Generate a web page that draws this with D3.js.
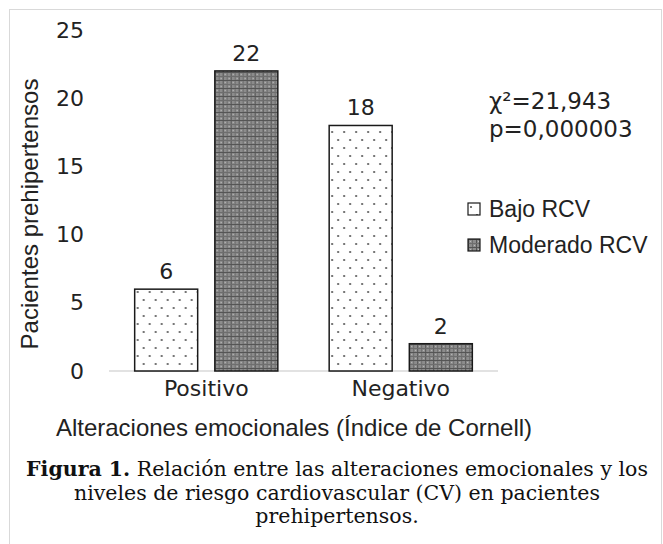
<!DOCTYPE html>
<html>
<head>
<meta charset="utf-8">
<script src="https://cdn.jsdelivr.net/npm/d3@7"></script>
<style>
  body { margin: 0; background: #fff; }
</style>
</head>
<body>
<script>
// data
var categories = ['Positivo', 'Negativo'];
var seriesNames = ['Bajo RCV', 'Moderado RCV'];
var bajoValues = [6, 18];
var moderadoValues = [22, 2];
var yTicks = [0, 5, 10, 15, 20, 25];
var statLines = ['χ²=21,943', 'p=0,000003'];

var rows = categories.map(function ( c, i ) {
  return { cat: c, values: [
    { name: seriesNames[0], value: bajoValues[i] },
    { name: seriesNames[1], value: moderadoValues[i] }
  ] };
});

// ----------------------------------------------------------------------------
var svg = d3.select('body').append('svg')
  .attr('width', 663)
  .attr('height', 544);

// patterns
var defs = svg.append('defs');
var dots = defs.append('pattern')
  .attr('id', 'dots')
  .attr('patternUnits', 'userSpaceOnUse')
  .attr('width', 12).attr('height', 16);
dots.append('rect').attr('width', 12).attr('height', 16).attr('fill', '#fff');
dots.append('circle').attr('cx', 3).attr('cy', 4).attr('r', 1.1).attr('fill', '#555');
dots.append('circle').attr('cx', 9).attr('cy', 12).attr('r', 1.1).attr('fill', '#555');

var plaid = defs.append('pattern')
  .attr('id', 'plaid')
  .attr('patternUnits', 'userSpaceOnUse')
  .attr('width', 8).attr('height', 8);
plaid.append('rect').attr('width', 8).attr('height', 8).attr('fill', '#8c8c8c');
plaid.append('rect').attr('x', 0).attr('width', 1).attr('height', 8).attr('fill', '#555');
plaid.append('rect').attr('x', 4).attr('width', 1).attr('height', 8).attr('fill', '#6e6e6e');
plaid.append('rect').attr('y', 0).attr('width', 8).attr('height', 1).attr('fill', '#555');
plaid.append('rect').attr('y', 4).attr('width', 8).attr('height', 1).attr('fill', '#6e6e6e');
plaid.append('rect').attr('x', 2).attr('y', 2).attr('width', 1).attr('height', 1).attr('fill', '#bdbdbd');
plaid.append('rect').attr('x', 6).attr('y', 6).attr('width', 1).attr('height', 1).attr('fill', '#bdbdbd');

var fills = { 'Bajo RCV': 'url(#dots)', 'Moderado RCV': 'url(#plaid)' };

// outer frame
svg.append('rect')
  .attr('x', 9.5).attr('y', 9.5)
  .attr('width', 652).attr('height', 560)
  .attr('fill', 'none')
  .attr('stroke', '#d9d9d9');

// scales
var y = d3.scaleLinear().domain([0, 25]).range([371, 30]);
var x0 = d3.scaleBand().domain(categories)
  .range([109, 498])
  .paddingInner(0.264)
  .paddingOuter(0.132);
var x1 = d3.scaleBand().domain(seriesNames)
  .range([0, x0.bandwidth()])
  .paddingInner(0.214);

// y tick labels (no axis line)
var yAxis = svg.append('g')
  .attr('transform', 'translate(84,0)')
  .call(d3.axisLeft(y).tickValues(yTicks).tickSize(0).tickPadding(0));
yAxis.select('.domain').remove();
yAxis.selectAll('text')
  .attr('font-family', 'DejaVu Sans')
  .attr('font-size', 22)
  .attr('fill', '#222');

// baseline
svg.append('line')
  .attr('x1', x0.range()[0]).attr('x2', x0.range()[1])
  .attr('y1', y(0)).attr('y2', y(0))
  .attr('stroke', '#d9d9d9')
  .attr('stroke-width', 1.5);

// bars
var groups = svg.selectAll('g.grp')
  .data(rows)
  .enter()
  .append('g')
  .attr('class', 'grp')
  .attr('transform', function ( d ) {
    return 'translate(' + x0(d.cat) + ',0)';
  });

groups.selectAll('rect')
  .data(function ( d ) { return d.values; })
  .enter()
  .append('rect')
  .attr('x', function ( d ) { return x1(d.name); })
  .attr('y', function ( d ) { return y(d.value); })
  .attr('width', x1.bandwidth())
  .attr('height', function ( d ) { return y(0) - y(d.value); })
  .attr('fill', function ( d ) { return fills[d.name]; })
  .attr('stroke', '#1a1a1a')
  .attr('stroke-width', 1.5);

groups.selectAll('text')
  .data(function ( d ) { return d.values; })
  .enter()
  .append('text')
  .attr('x', function ( d ) { return x1(d.name) + x1.bandwidth() / 2; })
  .attr('y', function ( d ) { return y(d.value) - 10; })
  .attr('text-anchor', 'middle')
  .attr('font-family', 'DejaVu Sans')
  .attr('font-size', 22)
  .attr('fill', '#222')
  .text(function ( d ) { return d.value; });

// category labels
var xAxis = svg.append('g')
  .attr('transform', 'translate(0,' + y(0) + ')')
  .call(d3.axisBottom(x0).tickSize(0).tickPadding(9));
xAxis.select('.domain').remove();
xAxis.selectAll('text')
  .attr('font-family', 'DejaVu Sans')
  .attr('font-size', 22)
  .attr('fill', '#222');

// axis titles
svg.append('text')
  .attr('transform', 'translate(38,214) rotate(-90)')
  .attr('text-anchor', 'middle')
  .attr('font-family', 'Liberation Sans')
  .attr('font-size', 24)
  .attr('fill', '#222')
  .text('Pacientes prehipertensos');

svg.append('text')
  .attr('x', 294).attr('y', 436)
  .attr('text-anchor', 'middle')
  .attr('font-family', 'Liberation Sans')
  .attr('font-size', 24)
  .attr('fill', '#222')
  .text('Alteraciones emocionales (Índice de Cornell)');

// stats
svg.selectAll('text.stat')
  .data(statLines)
  .enter()
  .append('text')
  .attr('class', 'stat')
  .attr('x', 489)
  .attr('y', function ( d, i ) { return 109 + i * 28; })
  .attr('font-family', 'DejaVu Sans')
  .attr('font-size', 23)
  .attr('fill', '#222')
  .text(function ( d ) { return d; });

// legend
var legend = svg.selectAll('g.leg')
  .data(seriesNames)
  .enter()
  .append('g')
  .attr('class', 'leg')
  .attr('transform', function ( d, i ) {
    return 'translate(468,' + (203 + i * 36) + ')';
  });
legend.append('rect')
  .attr('width', 12).attr('height', 12)
  .attr('fill', function ( d ) { return fills[d]; })
  .attr('stroke', '#1a1a1a')
  .attr('stroke-width', 1.2);
legend.append('text')
  .attr('x', 21).attr('y', 14)
  .attr('font-family', 'Liberation Sans')
  .attr('font-size', 23)
  .attr('fill', '#222')
  .text(function ( d ) { return d; });

// caption
var capLines = [
  [['Figura 1.', true], [' Relación entre las alteraciones emocionales y los', false]],
  [['niveles de riesgo cardiovascular (CV) en pacientes', false]],
  [['prehipertensos.', false]]
];
var cap = svg.selectAll('text.cap')
  .data(capLines)
  .enter()
  .append('text')
  .attr('class', 'cap')
  .attr('x', 337)
  .attr('y', function ( d, i ) { return 476 + i * 23.5; })
  .attr('text-anchor', 'middle')
  .attr('font-family', 'DejaVu Serif')
  .attr('font-size', 20.5)
  .attr('fill', '#111');
cap.selectAll('tspan')
  .data(function ( d ) { return d; })
  .enter()
  .append('tspan')
  .attr('font-weight', function ( d ) { return d[1] ? 'bold' : 'normal'; })
  .text(function ( d ) { return d[0]; });
</script>
</body>
</html>
